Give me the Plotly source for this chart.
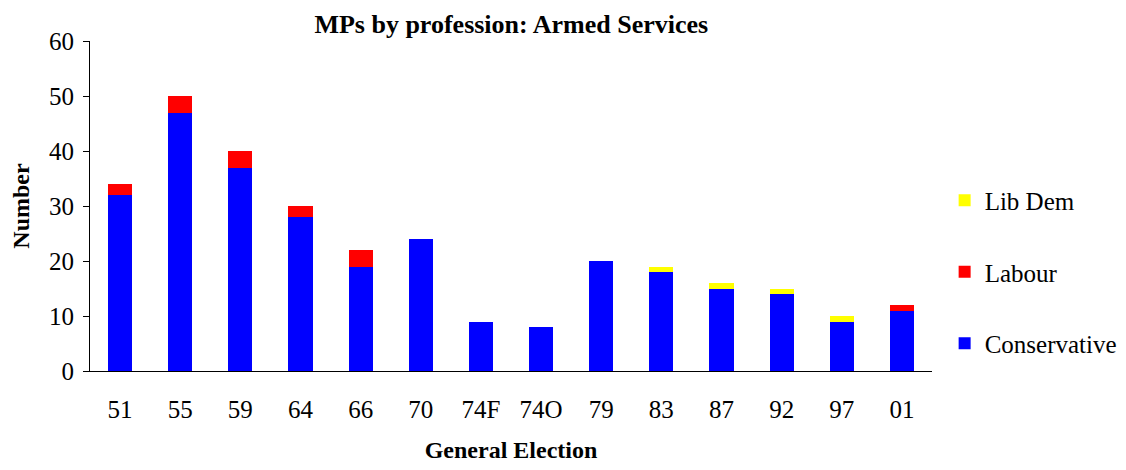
import plotly.graph_objects as go

elections = ["51", "55", "59", "64", "66", "70", "74F", "74O", "79", "83", "87", "92", "97", "01"]
conservative = [32, 47, 37, 28, 19, 24, 9, 8, 20, 18, 15, 14, 9, 11]
labour = [2, 3, 3, 2, 3, 0, 0, 0, 0, 0, 0, 0, 0, 1]
lib_dem = [0, 0, 0, 0, 0, 0, 0, 0, 0, 1, 1, 1, 1, 0]

FONT = "Liberation Serif, Times New Roman, serif"
FS = 25

fig = go.Figure()
for name, vals, col, rank in [("Conservative", conservative, "#0000FF", 3),
                              ("Labour", labour, "#FF0000", 2),
                              ("Lib Dem", lib_dem, "#FFFF00", 1)]:
    fig.add_trace(go.Bar(x=elections, y=vals, name=name, marker_color=col,
                         marker_line_width=0, legendgroup=name, legendrank=rank))

fig.update_layout(
    barmode="stack",
    bargap=0.6,
    width=1126, height=470,
    margin=dict(l=82, r=202, t=33, b=107),
    paper_bgcolor="white", plot_bgcolor="white",
    font=dict(family=FONT, size=FS, color="black"),
    title=dict(text="<b>MPs by profession: Armed Services</b>", x=0.447, xanchor="center",
               y=0.985, yanchor="top", font=dict(size=26)),
    legend=dict(x=1.015, y=0.30, yanchor="middle", xanchor="left",
                traceorder="grouped", tracegroupgap=36,
                font=dict(size=FS)),
    showlegend=True,
)
fig.update_xaxes(showline=True, linecolor="black", linewidth=1, ticks="",
                 ticklabelstandoff=16,
                 title=dict(text="<b>General Election</b>", standoff=19, font=dict(size=24)),
                 tickfont=dict(size=FS))
fig.update_yaxes(range=[0, 60], dtick=10, showline=True, linecolor="black", linewidth=1,
                 ticks="outside", ticklen=6, tickcolor="black", showgrid=False, zeroline=False,
                 ticklabelstandoff=4,
                 title=dict(text="<b>Number</b>", standoff=12, font=dict(size=24)),
                 tickfont=dict(size=FS))

fig.write_html("out.html")
